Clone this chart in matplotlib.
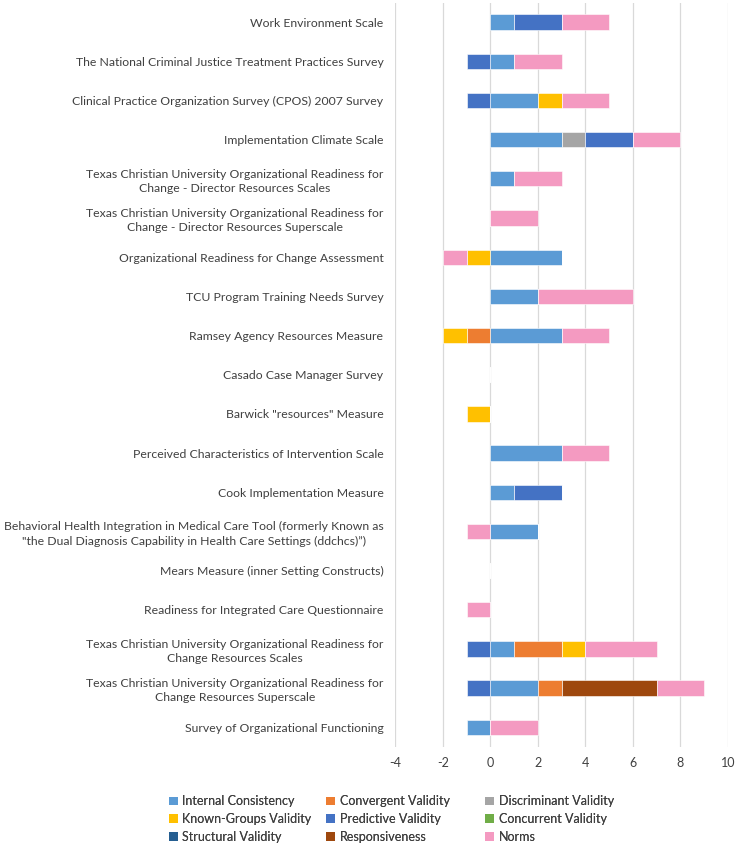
import matplotlib.pyplot as plt
import numpy as np
from matplotlib.patches import Patch

plt.rcParams['font.family'] = ['Lato', 'DejaVu Sans']
plt.rcParams['axes.unicode_minus'] = False

# categories, top to bottom
instruments = [
    'Work Environment Scale',
    'The National Criminal Justice Treatment Practices Survey',
    'Clinical Practice Organization Survey (CPOS) 2007 Survey',
    'Implementation Climate Scale',
    'Texas Christian University Organizational Readiness for\nChange - Director Resources Scales',
    'Texas Christian University Organizational Readiness for\nChange - Director Resources Superscale',
    'Organizational Readiness for Change Assessment',
    'TCU Program Training Needs Survey',
    'Ramsey Agency Resources Measure',
    'Casado Case Manager Survey',
    'Barwick "resources" Measure',
    'Perceived Characteristics of Intervention Scale',
    'Cook Implementation Measure',
    'Behavioral Health Integration in Medical Care Tool (formerly Known as\n"the Dual Diagnosis Capability in Health Care Settings (ddchcs)”)',
    'Mears Measure (inner Setting Constructs)',
    'Readiness for Integrated Care Questionnaire',
    'Texas Christian University Organizational Readiness for\nChange Resources Scales',
    'Texas Christian University Organizational Readiness for\nChange Resources Superscale',
    'Survey of Organizational Functioning',
]

internal_consistency = [1, 1, 2, 3, 1, 0, 3, 2, 3, 0, 0, 3, 1, 2, 0, 0, 1, 2, -1]
convergent_validity  = [0, 0, 0, 0, 0, 0, 0, 0, -1, 0, 0, 0, 0, 0, 0, 0, 2, 1, 0]
discriminant_validity = [0, 0, 0, 1, 0, 0, 0, 0, 0, 0, 0, 0, 0, 0, 0, 0, 0, 0, 0]
known_groups_validity = [0, 0, 1, 0, 0, 0, -1, 0, -1, 0, -1, 0, 0, 0, 0, 0, 1, 0, 0]
predictive_validity  = [2, -1, -1, 2, 0, 0, 0, 0, 0, 0, 0, 0, 2, 0, 0, 0, -1, -1, 0]
concurrent_validity  = [0] * 19
structural_validity  = [0] * 19
responsiveness       = [0, 0, 0, 0, 0, 0, 0, 0, 0, 0, 0, 0, 0, 0, 0, 0, 0, 4, 0]
norms                = [2, 2, 2, 2, 2, 2, -1, 4, 2, 0, 0, 2, 0, -1, 0, -1, 3, 2, 2]

series = [
    ('Internal Consistency', internal_consistency, '#5B9BD5'),
    ('Convergent Validity', convergent_validity, '#ED7D31'),
    ('Discriminant Validity', discriminant_validity, '#A5A5A5'),
    ('Known-Groups Validity', known_groups_validity, '#FFC000'),
    ('Predictive Validity', predictive_validity, '#4472C4'),
    ('Concurrent Validity', concurrent_validity, '#70AD47'),
    ('Structural Validity', structural_validity, '#255E91'),
    ('Responsiveness', responsiveness, '#9E480E'),
    ('Norms', norms, '#F49AC1'),
]

fig = plt.figure(figsize=(7.36, 8.43), dpi=100)
ax = fig.add_axes([0.537, 0.114, 0.452, 0.883])

y = np.arange(len(instruments))
pos_left = np.zeros(len(instruments))
neg_left = np.zeros(len(instruments))
for name, vals, col in series:
    v = np.array(vals, dtype=float)
    left = np.where(v >= 0, pos_left, neg_left)
    ax.barh(y, v, left=left, height=0.39, color=col, edgecolor='white', linewidth=0.4, zorder=3)
    pos_left += np.where(v > 0, v, 0)
    neg_left += np.where(v < 0, v, 0)

ax.set_ylim(len(instruments) - 0.5, -0.5)
ax.set_xlim(-4, 10)
ax.set_xticks(range(-4, 11, 2))
ax.set_yticks(y)
ax.set_yticklabels(instruments, fontsize=8.8, color='#404040', multialignment='center', linespacing=1.35)
ax.tick_params(axis='x', labelsize=9, colors='#404040', length=0, pad=7)
ax.tick_params(axis='y', length=0, pad=8.5)
ax.grid(axis='x', color='#D9D9D9', linewidth=0.9, zorder=0)
for s in ax.spines.values():
    s.set_visible(False)

# legend: three columns placed by hand, filled row by row
handles = [Patch(facecolor=c, label=n) for n, _, c in series]
col_x = [0.2300, 0.4435, 0.6595]
for j in range(3):
    hs = [handles[j + 3 * r] for r in range(3)]
    lg = fig.legend(hs, [h.get_label() for h in hs], loc='upper left',
                    bbox_to_anchor=(col_x[j], 0.0565), frameon=False, fontsize=9,
                    handlelength=0.7, handleheight=0.7, handletextpad=0.35,
                    labelspacing=0.45, labelcolor='#404040', borderpad=0, borderaxespad=0)
    fig.add_artist(lg)

fig.savefig('out.png', dpi=100)
